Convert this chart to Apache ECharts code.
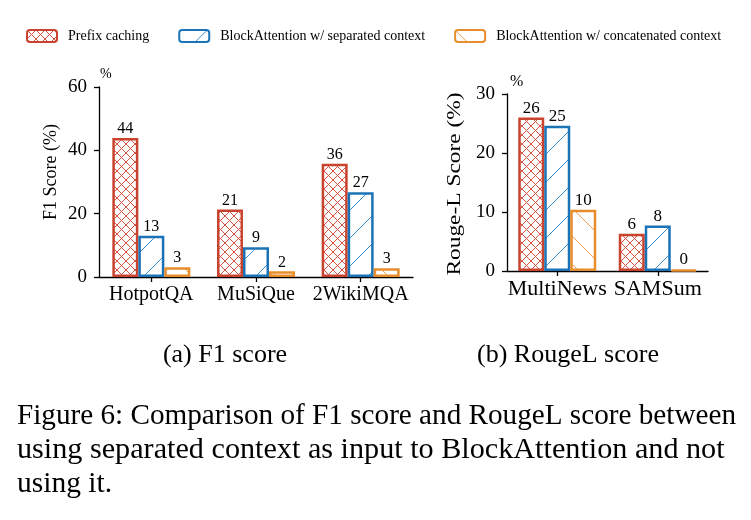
<!DOCTYPE html>
<html>
<head>
<meta charset="utf-8">
<script src="https://cdn.jsdelivr.net/npm/echarts@6/dist/echarts.min.js"></script>
<style>
  html, body { margin: 0; padding: 0; background: #fff; }
  #chart { width: 751px; height: 520px; }
</style>
</head>
<body>
<div id="chart"></div>
<script>
// 数据
const seriesNames = ['Prefix caching', 'BlockAttention w/ separated context', 'BlockAttention w/ concatenated context']
const f1Categories = ['HotpotQA', 'MuSiQue', '2WikiMQA']
const f1Prefix = [43.9, 21.3, 35.8]
const f1Separated = [13.0, 9.4, 26.8]
const f1Concat = [3.1, 1.8, 2.8]
const rougeCategories = ['MultiNews', 'SAMSum']
const rougePrefix = [26.0, 6.3]
const rougeSeparated = [24.6, 7.7]
const rougeConcat = [10.4, 0.2]

// 图注文字
const captionLines = [
  'Figure 6: Comparison of F1 score and RougeL score between',
  'using separated context as input to BlockAttention and not',
  'using it.'
]

const serif = '"Liberation Serif", "DejaVu Serif", serif'
const edgeColors = ['#c9432f', '#1a73b6', '#e88d2c']
const hatchColors = ['#d55340', '#3b8ccb', '#eba055']

// 斜线填充
const hatchTile = (size, stroke, dirs) => {
  const c = document.createElement('canvas')
  c.width = size
  c.height = size
  const ctx = c.getContext('2d')
  ctx.fillStyle = '#fff'
  ctx.fillRect(0, 0, size, size)
  ctx.strokeStyle = stroke
  ctx.lineWidth = 1
  dirs.forEach(d => {
    for (let k = -size; k <= size; k += size) {
      ctx.beginPath()
      if (d === '/') {
        ctx.moveTo(k, size)
        ctx.lineTo(k + size, 0)
      } else {
        ctx.moveTo(k, 0)
        ctx.lineTo(k + size, size)
      }
      ctx.stroke()
    }
  })
  return c
}

const fills = [
  { image: hatchTile(9, hatchColors[0], ['/', '\\']), repeat: 'repeat' },
  { image: hatchTile(28, hatchColors[1], ['/']), repeat: 'repeat' },
  { image: hatchTile(28, hatchColors[2], ['\\']), repeat: 'repeat' }
]

const makeBar = (i, data, axisIndex, fontSize) => ({
  name: seriesNames[i],
  type: 'bar',
  xAxisIndex: axisIndex,
  yAxisIndex: axisIndex,
  data: data,
  barWidth: 26,
  barGap: '0%',
  itemStyle: { color: fills[i], borderColor: edgeColors[i], borderWidth: 2.5 },
  label: {
    show: true,
    position: 'top',
    distance: 1,
    color: '#000',
    fontFamily: serif,
    fontSize: fontSize,
    formatter: p => Math.round(p.value)
  }
})

const axisLine = { show: true, lineStyle: { color: '#000', width: 1.3 } }
const axisTick = { show: true, length: 5, lineStyle: { color: '#000', width: 1.3 } }

// 图注，每行单独排版
const captionSizes = [29.2, 30.2, 29.5]
const captionText = captionLines.map((t, i) => ({
  type: 'text', x: 17, y: 416 + i * 34,
  style: { text: t, font: captionSizes[i] + 'px ' + serif, fill: '#000', textAlign: 'left', textVerticalAlign: 'middle' }
}))

const chart = echarts.init(document.getElementById('chart'))
chart.setOption({
  animation: false,
  legend: {
    data: seriesNames,
    left: 21,
    top: 24,
    itemWidth: 30,
    itemHeight: 12,
    itemGap: 29,
    textStyle: { fontFamily: serif, fontSize: 14, color: '#000', padding: [0, 0, 0, 6] }
  },
  grid: [
    { left: 99, right: 338, top: 87, bottom: 243 },
    { left: 507, right: 43, top: 94, bottom: 249 }
  ],
  xAxis: [
    {
      gridIndex: 0, type: 'category', data: f1Categories,
      axisLine, axisTick: { ...axisTick, alignWithLabel: true },
      axisLabel: { color: '#000', fontFamily: serif, fontSize: 20, margin: 8, interval: 0 }
    },
    {
      gridIndex: 1, type: 'category', data: rougeCategories,
      axisLine, axisTick: { ...axisTick, alignWithLabel: true },
      axisLabel: { color: '#000', fontFamily: serif, fontSize: 22, margin: 7, interval: 0 }
    }
  ],
  yAxis: [
    {
      gridIndex: 0, type: 'value', min: 0, max: 60, interval: 20,
      axisLine, axisTick, splitLine: { show: false },
      axisLabel: { color: '#000', fontFamily: serif, fontSize: 19, margin: 12 }
    },
    {
      gridIndex: 1, type: 'value', min: 0, max: 30, interval: 10,
      axisLine, axisTick, splitLine: { show: false },
      axisLabel: { color: '#000', fontFamily: serif, fontSize: 19, margin: 12 }
    }
  ],
  series: [
    makeBar(0, f1Prefix, 0, 16),
    makeBar(1, f1Separated, 0, 16),
    makeBar(2, f1Concat, 0, 16),
    makeBar(0, rougePrefix, 1, 17),
    makeBar(1, rougeSeparated, 1, 17),
    makeBar(2, rougeConcat, 1, 17)
  ],
  graphic: [
    { type: 'text', x: 51, y: 172, rotation: Math.PI / 2,
      style: { text: 'F1 Score (%)', font: '18px ' + serif, fill: '#000', textAlign: 'center', textVerticalAlign: 'middle' } },
    { type: 'text', x: 455, y: 184, rotation: Math.PI / 2, scaleX: 1.3,
      style: { text: 'Rouge-L Score (%)', font: '18px ' + serif, fill: '#000', textAlign: 'center', textVerticalAlign: 'middle' } },
    { type: 'text', x: 100, y: 74,
      style: { text: '%', font: '14px ' + serif, fill: '#000', textAlign: 'left', textVerticalAlign: 'middle' } },
    { type: 'text', x: 510, y: 82,
      style: { text: '%', font: '16px ' + serif, fill: '#000', textAlign: 'left', textVerticalAlign: 'middle' } },
    { type: 'text', x: 225, y: 355,
      style: { text: '(a) F1 score', font: '26px ' + serif, fill: '#000', textAlign: 'center', textVerticalAlign: 'middle' } },
    { type: 'text', x: 568, y: 355,
      style: { text: '(b) RougeL score', font: '26px ' + serif, fill: '#000', textAlign: 'center', textVerticalAlign: 'middle' } },
    ...captionText
  ]
})
</script>
</body>
</html>
